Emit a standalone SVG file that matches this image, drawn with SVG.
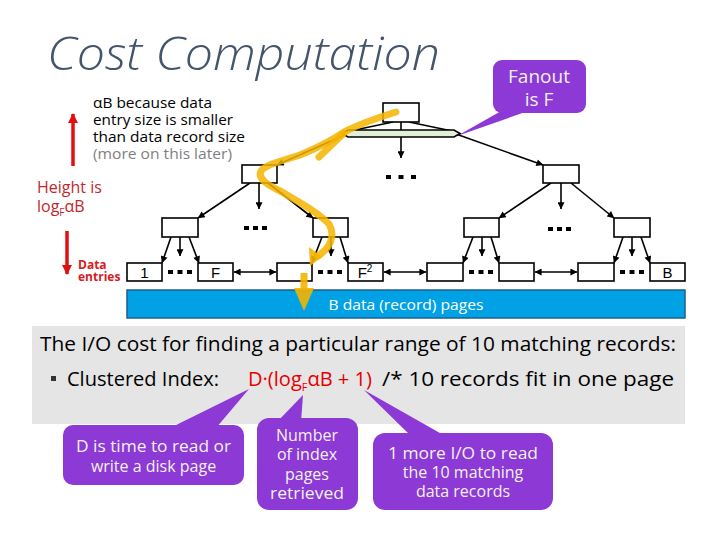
<svg xmlns="http://www.w3.org/2000/svg" width="720" height="540" viewBox="0 0 720 540">
<defs>
<marker id="ah" viewBox="0 0 10 10" refX="9.5" refY="5" markerWidth="8" markerHeight="7" markerUnits="userSpaceOnUse" orient="auto-start-reverse"><path d="M0,0 L10,5 L0,10 z" fill="#000"/></marker>
<marker id="rh" viewBox="0 0 10 10" refX="9" refY="5" markerWidth="10" markerHeight="10" markerUnits="userSpaceOnUse" orient="auto"><path d="M0,0 L10,5 L0,10 z" fill="#e01010"/></marker>
</defs>
<style>
.t{font-family:"Open Sans","Liberation Sans",sans-serif}
.box{fill:#fff;stroke:#000;stroke-width:1.6}
.ln{stroke:#000;stroke-width:1.6;fill:none;marker-end:url(#ah)}
.dbl{stroke:#000;stroke-width:1.6;fill:none;marker-end:url(#ah);marker-start:url(#ah)}
.dot{fill:#000}
.lbl{font-family:"Liberation Sans",Arial,sans-serif;font-size:15px;fill:#000;text-anchor:middle}
.call{fill:#8c39d5}
.ct{font-family:"Open Sans","Liberation Sans",sans-serif;font-size:16px;fill:#f2f2f2;text-anchor:middle}
.yl{stroke:#f5b400;stroke-opacity:0.85;stroke-width:7;fill:none;stroke-linecap:round;stroke-linejoin:round}
</style>
<rect width="720" height="540" fill="#fff"/>

<text class="t" x="47" y="70" font-size="46" font-style="italic" font-weight="300" fill="#44546a" textLength="393" lengthAdjust="spacingAndGlyphs">Cost Computation</text>

<g id="note-alpha">
<text class="t" font-size="14.5"><tspan x="93" y="108" textLength="119" lengthAdjust="spacingAndGlyphs">αB because data</tspan><tspan x="93" y="125" textLength="140" lengthAdjust="spacingAndGlyphs">entry size is smaller</tspan><tspan x="93" y="142" textLength="152" lengthAdjust="spacingAndGlyphs">than data record size</tspan><tspan x="93" y="159" fill="#7f7f7f" textLength="139" lengthAdjust="spacingAndGlyphs">(more on this later)</tspan></text>
</g>

<g id="height">
<line x1="73" y1="166" x2="73" y2="114" stroke="#e01010" stroke-width="3.5" marker-end="url(#rh)"/>
<text class="t" font-size="16" fill="#c0282d"><tspan x="37" y="193">Height is</tspan><tspan x="37" y="212">log</tspan><tspan font-size="10" dy="4">F</tspan><tspan dy="-4">αB</tspan></text>
<line x1="67" y1="231" x2="67" y2="274" stroke="#e01010" stroke-width="3.5" marker-end="url(#rh)"/>
<text class="t" font-size="12" font-weight="bold" fill="#d42020"><tspan x="78" y="269">Data</tspan><tspan x="78" y="281">entries</tspan></text>
</g>

<g id="fanout">
<polygon class="call" points="503,110 531,110 457,136"/>
<rect class="call" x="493" y="60" width="93" height="53" rx="9"/>
<text class="t" font-size="19" fill="#f0f0f0" text-anchor="middle"><tspan x="539" y="83">Fanout</tspan><tspan x="539" y="106">is F</tspan></text>
</g>

<g id="connectors">
<line x1="393" y1="122" x2="350" y2="131" stroke="#000" stroke-width="1.6"/>
<line x1="409" y1="122" x2="452" y2="131" stroke="#000" stroke-width="1.6"/>
<line class="ln" x1="401" y1="122" x2="401" y2="158"/>
<line class="ln" x1="347" y1="134" x2="277" y2="165"/>
<line class="ln" x1="456" y1="134" x2="543" y2="165"/>
<line class="ln" x1="250" y1="183" x2="198" y2="218"/>
<line class="ln" x1="259" y1="183" x2="259" y2="209"/>
<line class="ln" x1="268" y1="183" x2="313" y2="218"/>
<line class="ln" x1="551" y1="183" x2="499" y2="218"/>
<line class="ln" x1="561" y1="183" x2="561" y2="209"/>
<line class="ln" x1="571" y1="183" x2="614" y2="218"/>
<line class="ln" x1="171" y1="237" x2="162" y2="263"/>
<line class="ln" x1="180" y1="237" x2="180" y2="256"/>
<line class="ln" x1="189" y1="237" x2="199" y2="263"/>
<line class="ln" x1="322" y1="237" x2="312" y2="263"/>
<line class="ln" x1="331" y1="237" x2="331" y2="256"/>
<line class="ln" x1="340" y1="237" x2="348" y2="263"/>
<line class="ln" x1="473" y1="237" x2="463" y2="263"/>
<line class="ln" x1="482" y1="237" x2="482" y2="256"/>
<line class="ln" x1="491" y1="237" x2="499" y2="263"/>
<line class="ln" x1="623" y1="237" x2="614" y2="263"/>
<line class="ln" x1="632" y1="237" x2="632" y2="256"/>
<line class="ln" x1="641" y1="237" x2="650" y2="263"/>
<line class="dbl" x1="234" y1="272" x2="276" y2="272"/>
<line class="dbl" x1="384" y1="272" x2="426" y2="272"/>
<line class="dbl" x1="535" y1="272" x2="577" y2="272"/>
</g>

<g id="root">
<rect class="box" x="383" y="103" width="36" height="19"/>
<polygon points="342,133.5 348,130 454,130 460,133.5 454,137 348,137" fill="#e2efd9" stroke="#000" stroke-width="1.6"/>
</g>
<g id="dots" class="dot">
<rect x="386" y="175" width="5" height="4"/><rect x="398.5" y="175" width="5" height="4"/><rect x="411" y="175" width="5" height="4"/>
<rect x="244" y="226" width="5" height="4"/><rect x="253" y="226" width="5" height="4"/><rect x="262" y="226" width="5" height="4"/>
<rect x="548" y="227" width="5" height="4"/><rect x="557" y="227" width="5" height="4"/><rect x="566" y="227" width="5" height="4"/>
<rect x="168" y="270" width="5" height="4"/><rect x="177.5" y="270" width="5" height="4"/><rect x="187" y="270" width="5" height="4"/>
<rect x="318" y="270" width="5" height="4"/><rect x="327.5" y="270" width="5" height="4"/><rect x="337" y="270" width="5" height="4"/>
<rect x="469" y="270" width="5" height="4"/><rect x="478.5" y="270" width="5" height="4"/><rect x="488" y="270" width="5" height="4"/>
<rect x="620" y="270" width="5" height="4"/><rect x="629.5" y="270" width="5" height="4"/><rect x="639" y="270" width="5" height="4"/>
</g>
<g id="n-l1"><rect class="box" x="242" y="165" width="35" height="18"/></g>
<g id="n-r1"><rect class="box" x="543" y="165" width="36" height="18"/></g>
<g id="n-a"><rect class="box" x="162" y="218" width="36" height="19"/></g>
<g id="n-b"><rect class="box" x="313" y="218" width="35" height="19"/></g>
<g id="n-c"><rect class="box" x="464" y="218" width="35" height="19"/></g>
<g id="n-d"><rect class="box" x="614" y="218" width="36" height="19"/></g>
<g id="leaf1"><rect class="box" x="127" y="263" width="35" height="18"/><text class="lbl" x="144.5" y="278">1</text></g>
<g id="leaf2"><rect class="box" x="198" y="263" width="35" height="18"/><text class="lbl" x="215.5" y="278">F</text></g>
<g id="leaf3"><rect class="box" x="277" y="263" width="35" height="18"/></g>
<g id="leaf4"><rect class="box" x="348" y="263" width="35" height="18"/><text class="lbl" x="365" y="278">F<tspan font-size="10" dy="-6">2</tspan></text></g>
<g id="leaf5"><rect class="box" x="427" y="263" width="36" height="18"/></g>
<g id="leaf6"><rect class="box" x="499" y="263" width="35" height="18"/></g>
<g id="leaf7"><rect class="box" x="578" y="263" width="36" height="18"/></g>
<g id="leaf8"><rect class="box" x="650" y="263" width="35" height="18"/><text class="lbl" x="667.5" y="278">B</text></g>

<g id="data-pages">
<rect x="127" y="290" width="558" height="28" fill="#00a2e5" stroke="#1f5f8b" stroke-width="1.5"/>
<text class="t" x="406" y="310" font-size="15" fill="#fff" text-anchor="middle" textLength="155" lengthAdjust="spacingAndGlyphs">B data (record) pages</text>
</g>

<g id="search-path">
<path class="yl" d="M396,112 C380,117 360,124 346,131 C334,139 320,147 300,155 C282,161 266,164 261,171 C257,179 268,185 282,192 C300,203 318,212 329,224 C336,236 330,248 318,256"/>
<path class="yl" d="M319,157 L343,134"/>
<polygon points="309,247 322,257 310,266" fill="#f5b400" fill-opacity="0.9"/>
<line x1="304" y1="273" x2="304" y2="290" stroke="#f5b400" stroke-opacity="0.9" stroke-width="7"/>
<polygon points="294,288 314,288 304,311" fill="#f5b400" fill-opacity="0.9"/>
</g>

<g id="cost">
<rect x="32" y="326" width="653" height="98" fill="#e5e5e5"/>
<text class="t" x="40" y="351" font-size="20.5" textLength="636" lengthAdjust="spacingAndGlyphs">The I/O cost for finding a particular range of 10 matching records:</text>
<rect x="51" y="376" width="5" height="5" fill="#333"/>
<text class="t" x="67" y="386" font-size="20.5" textLength="152" lengthAdjust="spacingAndGlyphs">Clustered Index:</text>
<text class="t" x="248" y="386" font-size="20.5" fill="#e60000" textLength="124" lengthAdjust="spacingAndGlyphs">D·(log<tspan font-size="11" dy="5">F</tspan><tspan dy="-5">αB + 1)</tspan></text>
<text class="t" x="382" y="386" font-size="20.5" textLength="292" lengthAdjust="spacingAndGlyphs">/* 10 records fit in one page</text>
</g>

<g id="callout-d">
<polygon class="call" points="170,428 216,428 249,389"/>
<rect class="call" x="63" y="425" width="181" height="60" rx="10"/>
<text class="ct"><tspan x="153.5" y="452" textLength="155" lengthAdjust="spacingAndGlyphs">D is time to read or</tspan><tspan x="153.5" y="472">write a disk page</tspan></text>
</g>
<g id="callout-index">
<polygon class="call" points="277,422 301,422 303,395"/>
<rect class="call" x="257" y="418" width="101" height="92" rx="12"/>
<text class="ct"><tspan x="307" y="441">Number</tspan><tspan x="307" y="460">of index</tspan><tspan x="307" y="480">pages</tspan><tspan x="307" y="499" textLength="74" lengthAdjust="spacingAndGlyphs">retrieved</tspan></text>
</g>
<g id="callout-one">
<polygon class="call" points="412,437 447,437 364,390"/>
<rect class="call" x="373" y="433" width="180" height="77" rx="12"/>
<text class="ct"><tspan x="463" y="459" textLength="150" lengthAdjust="spacingAndGlyphs">1 more I/O to read</tspan><tspan x="463" y="478">the 10 matching</tspan><tspan x="463" y="497">data records</tspan></text>
</g>
</svg>
